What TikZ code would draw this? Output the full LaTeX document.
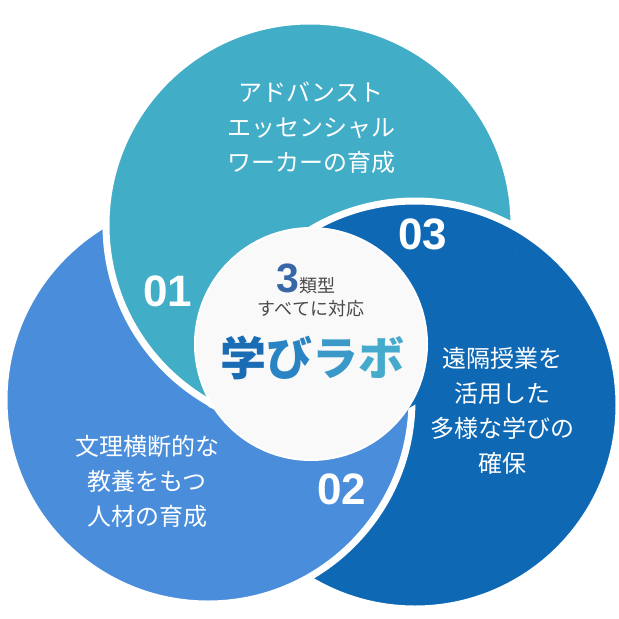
\documentclass[tikz,border=0pt]{standalone}
\usepackage{fontspec}
\newfontfamily\jpfont{Noto Sans CJK JP}
\newfontfamily\numfont{Liberation Sans}
\usetikzlibrary{positioning}
\definecolor{tealblue}{HTML}{42ADC7}
\definecolor{lightblue}{HTML}{4A8EDB}
\definecolor{darkblue}{HTML}{0E68B4}
\definecolor{midgray}{HTML}{F9F9F9}
\definecolor{textgray}{HTML}{4A4A4A}
\definecolor{numblue}{HTML}{3767A6}
\definecolor{labA}{HTML}{1A6DB5}
\definecolor{labB}{HTML}{2A83C2}
\definecolor{labC}{HTML}{3A99C9}
\definecolor{labD}{HTML}{45ABCD}

\begin{document}
\begin{tikzpicture}[x=1pt, y=-1pt,
    disc/.style={draw=white, line width=7pt},
    circtext/.style={font=\jpfont\fontsize{24}{35}\selectfont, text=white, align=center},
    num/.style={font=\numfont\bfseries\fontsize{44}{44}\selectfont, text=white}]
    \useasboundingbox (0,0) rectangle (619,619);
    \coordinate (cdark) at (415,405);
    \coordinate (clight) at (208,400);
    \coordinate (cteal) at (310,225);
    \coordinate (cmid) at (311,344);
    \path[disc, fill=darkblue] (cdark) circle[radius=204];
    \path[disc, fill=lightblue] (clight) circle[radius=204];
    \path[disc, fill=tealblue] (cteal) circle[radius=204];
    % dark blue lies over teal
    \begin{scope}
        \clip (cteal) circle[radius=208];
        \path[disc, fill=darkblue] (cdark) circle[radius=204];
    \end{scope}
    \path[fill=midgray, draw=white, line width=2pt] (cmid) circle[radius=116];

    \node[circtext] (tealtext) at (311,128) {アドバンスト\\エッセンシャル\\ワーカーの育成};
    \node[circtext] (lighttext) at (147,481) {文理横断的な\\教養をもつ\\人材の育成};
    \node[circtext] (darktext) at (502,411) {遠隔授業を\\活用した\\多様な学びの\\確保};
    \node[num] (n01) at (168,291) {01};
    \node[num] (n02) at (342,489) {02};
    \node[num] (n03) at (423,234) {03};

    \node[anchor=base] (types) at (306,292) {{\numfont\bfseries\fontsize{41}{41}\selectfont\color{numblue}3}{\jpfont\fontsize{18}{18}\selectfont\color{textgray}類型}};
    \node[font=\jpfont\fontsize{18}{18}\selectfont, text=textgray] (allok) at (311,309) {すべてに対応};
    \node[font=\jpfont\bfseries\fontsize{46}{46}\selectfont] (lab) at (312,358) {\color{labA}学\color{labB}び\color{labC}ラ\color{labD}ボ};
\end{tikzpicture}
\end{document}
